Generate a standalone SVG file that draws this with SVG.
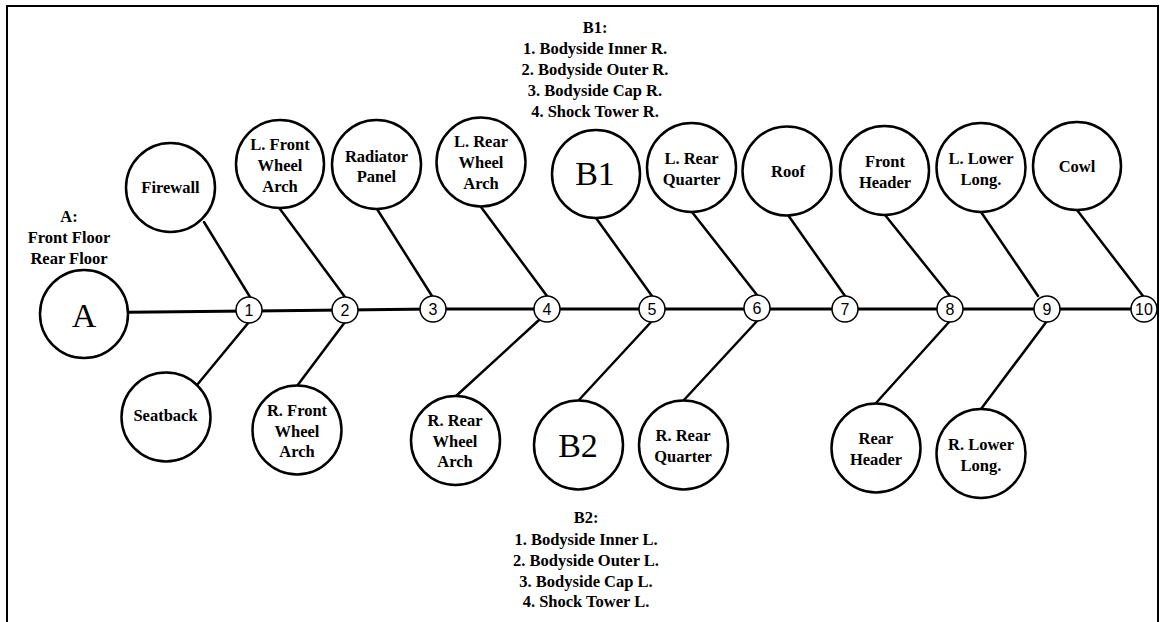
<svg xmlns="http://www.w3.org/2000/svg" width="1160" height="622" viewBox="0 0 1160 622">
<style>
.frame{fill:none;stroke:#000;stroke-width:2}
.c{fill:#fff;stroke:#000;stroke-width:2.5}
.s{fill:#fff;stroke:#000;stroke-width:1.5}
.ln{stroke:#000;stroke-width:2.5;fill:none;stroke-linecap:round}
.t{font-family:"Liberation Serif","Times New Roman",serif;font-weight:bold;font-size:16.5px;text-anchor:middle;fill:#000}
.big{font-family:"Liberation Serif","Times New Roman",serif;font-size:34px;text-anchor:middle;fill:#000}
.n{font-family:"Liberation Sans",Arial,sans-serif;font-size:16px;text-anchor:middle;fill:#000}
</style>
<rect class="frame" x="7" y="6" width="1151" height="640"/>
<g id="connectors">
<polyline class="ln" style="stroke-width:3" points="128,312.3 249,311 345,310 433,309 1144,309"/>
<line class="ln" x1="204" y1="222" x2="250" y2="297"/>
<line class="ln" x1="280" y1="209" x2="345" y2="297"/>
<line class="ln" x1="377" y1="209" x2="432" y2="296"/>
<line class="ln" x1="481" y1="207" x2="547" y2="296"/>
<line class="ln" x1="596" y1="218" x2="652" y2="296"/>
<line class="ln" x1="692" y1="212" x2="757" y2="295"/>
<line class="ln" x1="788" y1="215" x2="845" y2="296"/>
<line class="ln" x1="885" y1="215" x2="950" y2="296"/>
<line class="ln" x1="981" y1="212" x2="1038" y2="296"/>
<line class="ln" x1="1077" y1="210" x2="1143" y2="296"/>
<line class="ln" x1="197" y1="385" x2="249" y2="322"/>
<line class="ln" x1="297" y1="386" x2="345" y2="322"/>
<line class="ln" x1="455" y1="397" x2="539" y2="320"/>
<line class="ln" x1="578" y1="401" x2="652" y2="321"/>
<line class="ln" x1="683" y1="401" x2="758" y2="320"/>
<line class="ln" x1="876" y1="403" x2="950" y2="321"/>
<line class="ln" x1="981" y1="409" x2="1047" y2="321"/>
</g>
<g id="junctions">
<g id="j1"><circle class="s" cx="249" cy="310" r="13"/><text class="n" x="249" y="316">1</text></g>
<g id="j2"><circle class="s" cx="345" cy="310" r="13"/><text class="n" x="345" y="316">2</text></g>
<g id="j3"><circle class="s" cx="433" cy="309" r="13"/><text class="n" x="433" y="315">3</text></g>
<g id="j4"><circle class="s" cx="547" cy="309" r="13"/><text class="n" x="547" y="315">4</text></g>
<g id="j5"><circle class="s" cx="652" cy="309" r="13"/><text class="n" x="652" y="315">5</text></g>
<g id="j6"><circle class="s" cx="757" cy="308" r="13"/><text class="n" x="757" y="314">6</text></g>
<g id="j7"><circle class="s" cx="845" cy="309" r="13"/><text class="n" x="845" y="315">7</text></g>
<g id="j8"><circle class="s" cx="950" cy="309" r="13"/><text class="n" x="950" y="315">8</text></g>
<g id="j9"><circle class="s" cx="1047" cy="309" r="13"/><text class="n" x="1047" y="315">9</text></g>
<g id="j10"><circle class="s" cx="1144" cy="309" r="13"/><text class="n" x="1144" y="315">10</text></g>
</g>
<g id="nodeA"><circle class="c" cx="84" cy="314" r="44"/><text class="big" x="84" y="327">A</text></g>
<g id="labelA"><text class="t" x="69" y="222">A:</text><text class="t" x="69" y="243">Front Floor</text><text class="t" x="69" y="264">Rear Floor</text></g>
<g id="firewall"><circle class="c" cx="170.5" cy="187.5" r="44.5"/><text class="t" x="170.5" y="193">Firewall</text></g>
<g id="lfwa"><circle class="c" cx="280" cy="164" r="44"/><text class="t" x="280" y="150">L. Front</text><text class="t" x="280" y="171">Wheel</text><text class="t" x="280" y="192">Arch</text></g>
<g id="radiator"><circle class="c" cx="376.5" cy="164.5" r="44.5"/><text class="t" x="376.5" y="162">Radiator</text><text class="t" x="376.5" y="182">Panel</text></g>
<g id="lrwa"><circle class="c" cx="481" cy="162" r="44.5"/><text class="t" x="481" y="147">L. Rear</text><text class="t" x="481" y="168">Wheel</text><text class="t" x="481" y="188.5">Arch</text></g>
<g id="b1"><circle class="c" cx="596" cy="174" r="44"/><text class="big" x="595" y="185">B1</text></g>
<g id="labelB1"><text class="t" x="595" y="33">B1:</text><text class="t" x="595" y="54">1. Bodyside Inner R.</text><text class="t" x="595" y="75">2. Bodyside Outer R.</text><text class="t" x="595" y="96">3. Bodyside Cap R.</text><text class="t" x="595" y="117">4. Shock Tower R.</text></g>
<g id="lrq"><circle class="c" cx="691.5" cy="167.5" r="44.5"/><text class="t" x="691.5" y="164">L. Rear</text><text class="t" x="691.5" y="185">Quarter</text></g>
<g id="roof"><circle class="c" cx="787" cy="171" r="44.5"/><text class="t" x="788" y="177">Roof</text></g>
<g id="fheader"><circle class="c" cx="884.5" cy="170.5" r="44.5"/><text class="t" x="885" y="167">Front</text><text class="t" x="885" y="188">Header</text></g>
<g id="lll"><circle class="c" cx="981" cy="167.5" r="44.5"/><text class="t" x="981" y="164">L. Lower</text><text class="t" x="981" y="184.5">Long.</text></g>
<g id="cowl"><circle class="c" cx="1077" cy="166" r="44"/><text class="t" x="1077" y="172">Cowl</text></g>
<g id="seatback"><circle class="c" cx="166" cy="417" r="44.5"/><text class="t" x="165.5" y="421">Seatback</text></g>
<g id="rfwa"><circle class="c" cx="297" cy="430" r="44.5"/><text class="t" x="297" y="416">R. Front</text><text class="t" x="297" y="437">Wheel</text><text class="t" x="297" y="457">Arch</text></g>
<g id="rrwa"><circle class="c" cx="455.5" cy="440.5" r="44.5"/><text class="t" x="455" y="426">R. Rear</text><text class="t" x="455" y="447">Wheel</text><text class="t" x="455" y="467">Arch</text></g>
<g id="b2"><circle class="c" cx="578.5" cy="445" r="44.5"/><text class="big" x="578" y="457">B2</text></g>
<g id="labelB2"><text class="t" x="586" y="523">B2:</text><text class="t" x="586" y="545">1. Bodyside Inner L.</text><text class="t" x="586" y="566">2. Bodyside Outer L.</text><text class="t" x="586" y="587">3. Bodyside Cap L.</text><text class="t" x="586" y="607">4. Shock Tower L.</text></g>
<g id="rrq"><circle class="c" cx="683.5" cy="445" r="44.5"/><text class="t" x="683" y="441">R. Rear</text><text class="t" x="683" y="462">Quarter</text></g>
<g id="rheader"><circle class="c" cx="876" cy="448" r="44.5"/><text class="t" x="876" y="444">Rear</text><text class="t" x="876" y="465">Header</text></g>
<g id="rll"><circle class="c" cx="981" cy="453.5" r="44.5"/><text class="t" x="981" y="450">R. Lower</text><text class="t" x="981" y="471">Long.</text></g>
</svg>
